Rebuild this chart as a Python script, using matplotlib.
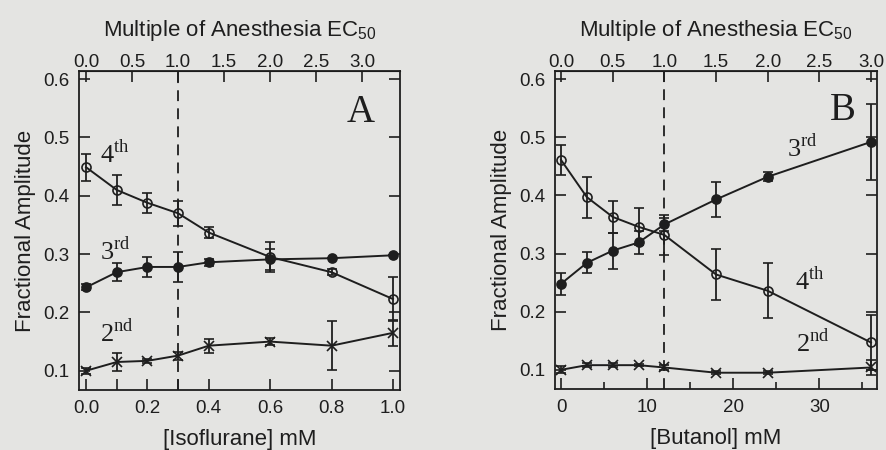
import numpy as np
import matplotlib
matplotlib.use("Agg")
import matplotlib.pyplot as plt

plt.rcParams['font.family'] = ['Liberation Sans', 'DejaVu Sans']
plt.rcParams['mathtext.fontset'] = 'custom'
plt.rcParams['mathtext.rm'] = 'Liberation Serif'
plt.rcParams['mathtext.sf'] = 'Liberation Sans'

# ---------------- data ----------------
# Panel A: isoflurane
iso_mM = [0.0, 0.1, 0.2, 0.3, 0.4, 0.6, 0.8, 1.0]
iso_ec50 = 0.3
iso_4th = [0.449, 0.410, 0.388, 0.370, 0.337, 0.295, 0.269, 0.223]
iso_4th_err = [0.023, 0.025, 0.017, 0.021, 0.010, 0.025, 0.005, 0.037]
iso_3rd = [0.243, 0.269, 0.278, 0.278, 0.286, 0.291, 0.293, 0.298]
iso_3rd_err = [0.005, 0.015, 0.017, 0.025, 0.006, 0.018, 0.0, 0.0]
iso_2nd = [0.100, 0.115, 0.117, 0.126, 0.143, 0.150, 0.143, 0.165]
iso_2nd_err = [0.005, 0.015, 0.004, 0.007, 0.012, 0.006, 0.042, 0.022]

# Panel B: butanol
but_mM = [0, 3, 6, 9, 12, 18, 24, 36]
but_ec50 = 12
but_4th = [0.461, 0.397, 0.363, 0.346, 0.332, 0.264, 0.236, 0.147]
but_4th_err = [0.026, 0.035, 0.027, 0.032, 0.034, 0.044, 0.047, 0.048]
but_3rd = [0.248, 0.284, 0.305, 0.319, 0.350, 0.393, 0.432, 0.492]
but_3rd_err = [0.019, 0.018, 0.031, 0.019, 0.011, 0.030, 0.008, 0.066]
but_2nd = [0.100, 0.108, 0.108, 0.108, 0.104, 0.095, 0.095, 0.104]
but_2nd_err = [0.006, 0.004, 0.004, 0.002, 0.004, 0.003, 0.003, 0.013]

y_ticks = [0.1, 0.2, 0.3, 0.4, 0.5, 0.6]
top_ticks = [0.0, 0.5, 1.0, 1.5, 2.0, 2.5, 3.0]
iso_ticks_major = [0.0, 0.2, 0.4, 0.6, 0.8, 1.0]
iso_ticks_minor = [0.1, 0.3]
but_ticks_major = [0, 10, 20, 30]
but_ticks_minor = [5, 15, 25, 35]

BG = '#e4e4e2'
INK = '#1e1e1e'
TICK_FS = 13.5
LABEL_FS = 16

fig = plt.figure(figsize=(8.86, 4.5), dpi=100, facecolor=BG)
axA = fig.add_axes([79/886, 60/450, 321/886, 319/450], facecolor=BG)
axB = fig.add_axes([555/886, 61/450, 322/886, 318/450], facecolor=BG)


def series(ax, x, y, e, marker, mfc, ms):
    ax.errorbar(x, y, yerr=e, color=INK, lw=1.4, elinewidth=1.3, capsize=3.6,
                capthick=1.3, marker=marker, ms=ms, mfc=mfc, mec=INK, mew=1.2,
                zorder=3)


def style(ax, xlim, ec50, major, minor, xfmt, xlabel):
    ax.set_ylim(0.067, 0.614)
    ax.set_xlim(*xlim)
    ax.set_yticks(y_ticks)
    ax.set_yticklabels([f'{v:.1f}' for v in y_ticks])
    ax.set_xticks(major)
    ax.set_xticklabels([xfmt(v) for v in major])
    ax.set_xticks(minor, minor=True)
    ax.tick_params(which='both', direction='in', length=8, width=1.2,
                   color=INK, labelsize=TICK_FS, labelcolor=INK, pad=7,
                   right=True)
    ax.tick_params(axis='y', which='minor', left=False, right=False)
    for s in ax.spines.values():
        s.set_linewidth(1.3)
        s.set_color(INK)
    ax.axvline(ec50, color=INK, lw=1.3, ls=(0, (6, 4)), zorder=2)
    ax.set_ylabel('Fractional Amplitude', fontsize=LABEL_FS, color=INK,
                  labelpad=5)
    ax.set_xlabel(xlabel, fontsize=LABEL_FS, color=INK, labelpad=9)
    sec = ax.secondary_xaxis('top', functions=(lambda x: x / ec50,
                                              lambda m: m * ec50))
    sec.set_xticks(top_ticks)
    sec.set_xticklabels([f'{v:.1f}' for v in top_ticks])
    sec.tick_params(direction='in', length=8, width=1.2, color=INK,
                    labelsize=TICK_FS, labelcolor=INK, pad=0)
    sec.set_xlabel(r'Multiple of Anesthesia EC$_{\mathsf{50}}$',
                   fontsize=LABEL_FS, color=INK, labelpad=13)


# Panel A
style(axA, (-0.023, 1.023), iso_ec50, iso_ticks_major, iso_ticks_minor,
      lambda v: f'{v:.1f}', '[Isoflurane] mM')
series(axA, iso_mM, iso_4th, iso_4th_err, 'o', 'none', 6.5)
series(axA, iso_mM, iso_3rd, iso_3rd_err, 'o', INK, 6.5)
series(axA, iso_mM, iso_2nd, iso_2nd_err, 'x', INK, 6.5)

tkw = dict(fontfamily='Liberation Serif', fontsize=19, color=INK,
           ha='left', va='baseline')
axA.text(0.046, 0.456, r'4$^{\mathrm{th}}$', **tkw)
axA.text(0.046, 0.290, r'3$^{\mathrm{rd}}$', **tkw)
axA.text(0.046, 0.149, r'2$^{\mathrm{nd}}$', **tkw)
axA.text(0.896, 0.526, 'A', fontfamily='Liberation Serif', fontsize=28,
         color=INK, ha='center', va='baseline')

# Panel B
style(axB, (-0.7, 36.7), but_ec50, but_ticks_major, but_ticks_minor,
      lambda v: f'{v:d}', '[Butanol] mM')
series(axB, but_mM, but_4th, but_4th_err, 'o', 'none', 6.5)
series(axB, but_mM, but_3rd, but_3rd_err, 'o', INK, 6.5)
series(axB, but_mM, but_2nd, but_2nd_err, 'x', INK, 6.5)
axB.tick_params(axis='x', which='minor', length=5)

axB.text(26.2, 0.466, r'3$^{\mathrm{rd}}$', **tkw)
axB.text(27.2, 0.238, r'4$^{\mathrm{th}}$', **tkw)
axB.text(27.3, 0.130, r'2$^{\mathrm{nd}}$', **tkw)
axB.text(32.7, 0.530, 'B', fontfamily='Liberation Serif', fontsize=28,
         color=INK, ha='center', va='baseline')

fig.savefig('out.png', dpi=100, facecolor=BG)
